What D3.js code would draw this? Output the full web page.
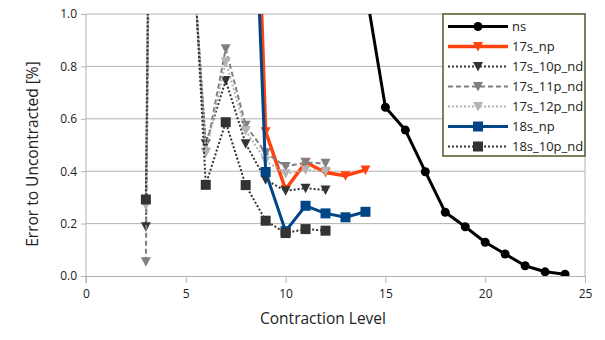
<!DOCTYPE html>
<html>
<head>
<meta charset="utf-8">
<script src="https://cdn.jsdelivr.net/npm/d3@7"></script>
<style>
  body { margin: 0; background: #fff; }
  text { font-family: "Open Sans", "DejaVu Sans", sans-serif; }
</style>
</head>
<body>
<div id="chart"></div>
<script>
// contraction levels and errors (values > 1 run off the top)
var nsLevels = [14, 15, 16, 17, 18, 19, 20, 21, 22, 23, 24];
var nsValues = [1.1, 0.644, 0.557, 0.398, 0.243, 0.188, 0.129, 0.084, 0.039, 0.016, 0.007];

var npLevels = [8, 9, 10, 11, 12, 13, 14];
var s17npValues = [2.8, 0.551, 0.33, 0.434, 0.395, 0.383, 0.405];
var s18npValues = [2.35, 0.397, 0.171, 0.268, 0.239, 0.224, 0.245];

var ndLevels = [3, 4, 5, 6, 7, 8, 9, 10, 11, 12];
var s17_10pValues = [0.188, 8, 1.6, 0.505, 0.746, 0.505, 0.367, 0.325, 0.335, 0.328];
var s17_11pValues = [0.054, 8, 1.65, 0.472, 0.867, 0.575, 0.47, 0.418, 0.433, 0.43];
var s17_12pValues = [0.27, 8, 1.62, 0.47, 0.818, 0.555, 0.44, 0.39, 0.405, 0.40];
var s18_10pValues = [0.292, 8, 1.8, 0.348, 0.587, 0.347, 0.211, 0.164, 0.179, 0.173];

var xTicks = [0, 5, 10, 15, 20, 25];
var yTicks = [0, 0.2, 0.4, 0.6, 0.8, 1.0];

var series = [
  {name: "ns",         x: nsLevels, y: nsValues,      color: "#000000", width: 3,   dash: null,  symbol: "circle"},
  {name: "17s_np",     x: npLevels, y: s17npValues,   color: "#ff420e", width: 3.5, dash: null,  symbol: "tri"},
  {name: "17s_10p_nd", x: ndLevels, y: s17_10pValues, color: "#333333", width: 2,   dash: "2,2", symbol: "tri"},
  {name: "17s_11p_nd", x: ndLevels, y: s17_11pValues, color: "#808080", width: 2,   dash: "5,3", symbol: "tri"},
  {name: "17s_12p_nd", x: ndLevels, y: s17_12pValues, color: "#b3b3b3", width: 2,   dash: "2,2", symbol: "tri"},
  {name: "18s_np",     x: npLevels, y: s18npValues,   color: "#004586", width: 3,   dash: null,  symbol: "square"},
  {name: "18s_10p_nd", x: ndLevels, y: s18_10pValues, color: "#333333", width: 2,   dash: "2,2", symbol: "square"}
];

var width = 605, height = 340;
var margin = {top: 14, right: 20, bottom: 64, left: 86};
var plotW = width - margin.left - margin.right;
var plotH = height - margin.top - margin.bottom;

var svg = d3.select("#chart").append("svg")
    .attr("width", width)
    .attr("height", height);

var x = d3.scaleLinear().domain([0, 25]).range([0, plotW]);
var y = d3.scaleLinear().domain([0, 1]).range([plotH, 0]);

var g = svg.append("g").attr("transform", "translate(" + margin.left + "," + margin.top + ")");

// grid
g.append("g").selectAll("line")
  .data(yTicks.slice(1))
  .enter().append("line")
  .attr("x1", 0).attr("x2", plotW)
  .attr("y1", function(d) { return y(d); })
  .attr("y2", function(d) { return y(d); })
  .attr("stroke", "#b3b3b3");

// right border
g.append("line")
  .attr("x1", plotW).attr("x2", plotW)
  .attr("y1", 0).attr("y2", plotH)
  .attr("stroke", "#b3b3b3");

var xAxis = g.append("g")
  .attr("transform", "translate(0," + plotH + ")")
  .call(d3.axisBottom(x).tickValues(xTicks).tickSize(7).tickPadding(6).tickFormat(d3.format("d")));

var yAxis = g.append("g")
  .call(d3.axisLeft(y).tickValues(yTicks).tickSize(5).tickPadding(4).tickFormat(d3.format(".1f")));

[xAxis, yAxis].forEach(function(a) {
  a.select(".domain").attr("stroke", "#b3b3b3");
  a.selectAll(".tick line").attr("stroke", "#b3b3b3");
  a.selectAll(".tick text").attr("fill", "#222").style("font-size", "12px")
   .style("font-family", "'Open Sans', 'DejaVu Sans', sans-serif");
});
yAxis.select(".domain").attr("d", "M0," + (plotH + 7) + "V0");

// axis titles
svg.append("text")
  .attr("x", 323).attr("y", 324)
  .attr("text-anchor", "middle")
  .attr("fill", "#222")
  .style("font-size", "15.5px")
  .text("Contraction Level");

svg.append("text")
  .attr("transform", "translate(38,154) rotate(-90)")
  .attr("text-anchor", "middle")
  .attr("fill", "#222")
  .style("font-size", "15.5px")
  .text("Error to Uncontracted [%]");

svg.append("clipPath").attr("id", "plot-clip")
  .append("rect").attr("width", plotW).attr("height", plotH);

function marker(sel, s, cx, cy) {
  if (s.symbol === "circle") {
    sel.append("circle").attr("cx", cx).attr("cy", cy).attr("r", 4.5).attr("fill", s.color);
  } else if (s.symbol === "square") {
    sel.append("rect").attr("x", cx - 5).attr("y", cy - 5).attr("width", 10).attr("height", 10).attr("fill", s.color);
  } else {
    sel.append("path")
      .attr("d", "M" + (cx - 5) + "," + (cy - 4.5) + "L" + (cx + 5) + "," + (cy - 4.5) + "L" + cx + "," + (cy + 5) + "Z")
      .attr("fill", s.color);
  }
}

var plot = g.append("g").attr("clip-path", "url(#plot-clip)");

var line = d3.line()
  .x(function(d) { return x(d[0]); })
  .y(function(d) { return y(d[1]); });

series.forEach(function(s) {
  var pts = s.x.map(function(v, i) { return [v, s.y[i]]; });
  var sg = plot.append("g");
  sg.append("path")
    .attr("d", line(pts))
    .attr("fill", "none")
    .attr("stroke", s.color)
    .attr("stroke-width", s.width)
    .attr("stroke-dasharray", s.dash)
    .attr("stroke-linejoin", "round");
  pts.forEach(function(p) {
    if (p[1] <= 1.05) marker(sg, s, x(p[0]), y(p[1]));
  });
});

// legend
var legend = svg.append("g").attr("transform", "translate(443,14)");
legend.append("rect")
  .attr("width", 142).attr("height", 142)
  .attr("fill", "#fff")
  .attr("stroke", "#4f5a2b")
  .attr("stroke-width", 1.5);

series.forEach(function(s, i) {
  var ly = 12.5 + i * 20;
  var lg = legend.append("g");
  lg.append("line")
    .attr("x1", 5).attr("x2", 65)
    .attr("y1", ly).attr("y2", ly)
    .attr("stroke", s.color)
    .attr("stroke-width", s.width)
    .attr("stroke-dasharray", s.dash);
  marker(lg, s, 35, ly);
  lg.append("text")
    .attr("x", 69).attr("y", ly + 4.5)
    .attr("fill", "#222")
    .style("font-size", "13px")
    .text(s.name);
});
</script>
</body>
</html>
